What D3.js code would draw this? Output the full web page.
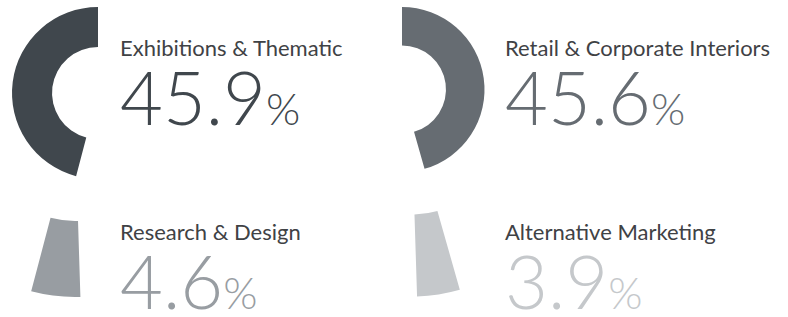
<!DOCTYPE html>
<html>
<head>
<meta charset="utf-8">
<script src="https://cdn.jsdelivr.net/npm/d3@7"></script>
<style>
  html, body { margin: 0; padding: 0; background: #fff; }
  svg { display: block; }
</style>
</head>
<body>
<div id="chart"></div>
<script>
// data
const categories = ["Exhibitions & Thematic", "Retail & Corporate Interiors", "Research & Design", "Alternative Marketing"];
const shares = [45.9, 45.6, 4.6, 3.9];
const colors = ["#40474d", "#666c72", "#989da2", "#c5c8cb"];
// order of the slices round the ring, counter-clockwise from the top
const ringOrder = [0, 2, 3, 1];

// each slice is pulled out of the ring and shown in its own panel
const panels = [
  { cx: 98,  cy: 93,  outer: 86,  inner: 46, tx: 120, labelY: 56,  numY: 125 },
  { cx: 402, cy: 89.5, outer: 82.5, inner: 44, tx: 505, labelY: 56,  numY: 125 },
  { cx: 75,  cy: 125, outer: 172, inner: 96, tx: 120, labelY: 240, numY: 309 },
  { cx: 411.5, cy: 119.5, outer: 177, inner: 95, tx: 505, labelY: 240, numY: 309 }
];

const width = 788, height = 317;

const svg = d3.select("#chart").append("svg")
  .attr("width", width)
  .attr("height", height);

const pie = d3.pie()
  .sort(null)
  .value(i => shares[i])
  .startAngle(0)
  .endAngle(-2 * Math.PI);

const slices = pie(ringOrder);

slices.forEach(s => {
  const i = s.data;
  const p = panels[i];
  const arc = d3.arc().innerRadius(p.inner).outerRadius(p.outer);

  svg.append("path")
    .attr("transform", "translate(" + p.cx + "," + p.cy + ")")
    .attr("d", arc(s))
    .attr("fill", colors[i]);

  svg.append("text")
    .attr("x", p.tx)
    .attr("y", p.labelY)
    .attr("font-family", "Lato, sans-serif")
    .attr("font-size", 22)
    .attr("fill", "#3f4245")
    .text(categories[i]);

  const num = svg.append("text")
    .attr("x", p.tx)
    .attr("y", p.numY)
    .attr("font-family", "Lato, sans-serif")
    .attr("font-weight", 300)
    .attr("fill", colors[i]);
  num.append("tspan")
    .attr("font-size", 74)
    .text(d3.format(".1f")(shares[i]));
  num.append("tspan")
    .attr("font-size", 44)
    .attr("dx", 0)
    .text("%");
});
</script>
</body>
</html>
